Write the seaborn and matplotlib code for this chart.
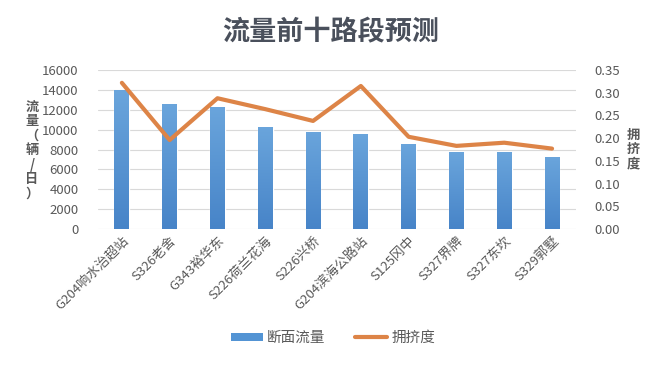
import matplotlib
matplotlib.use("Agg")
import matplotlib.pyplot as plt
import seaborn as sns
import pandas as pd
import numpy as np
from matplotlib.patches import Patch
from matplotlib.lines import Line2D
from matplotlib.colors import LinearSegmentedColormap

categories = ["G204响水治超站", "S326老舍", "G343裕华东", "S226荷兰花海", "S226兴桥",
              "G204滨海公路站", "S125冈中", "S327界牌", "S327东坎", "S329郭墅"]
flow = [14000, 12600, 12300, 10300, 9800, 9600, 8600, 7700, 7700, 7200]
congestion = [0.322, 0.196, 0.288, 0.264, 0.238, 0.315, 0.203, 0.183, 0.190, 0.177]
left_ticks = [0, 2000, 4000, 6000, 8000, 10000, 12000, 14000, 16000]
right_ticks = [0.00, 0.05, 0.10, 0.15, 0.20, 0.25, 0.30, 0.35]

sns.set_theme(style="white")
plt.rcParams['font.family'] = ['Noto Sans CJK SC', 'DejaVu Sans']

df = pd.DataFrame({"路段": categories, "断面流量": flow, "拥挤度": congestion})

fig = plt.figure(figsize=(6.62, 3.79), dpi=100)
ax = fig.add_axes([0.148, 0.396, 0.722, 0.419])

tick_color = "#595959"
bar_color = "#5394D4"
line_color = "#DD8447"

sns.barplot(data=df, x="路段", y="断面流量", color=bar_color, width=0.31,
            saturation=1, ax=ax, zorder=2)
ax.set_ylim(0, 16000)
ax.set_xlim(-0.5, len(categories) - 0.5)

# vertical gradient fill on each bar (style only)
cmap = LinearSegmentedColormap.from_list("g", ["#4784C8", "#6AA5DC"])
grad = np.linspace(0, 1, 256).reshape(-1, 1)
for p in list(ax.patches):
    x0, y0 = p.get_x(), p.get_y()
    w, h = p.get_width(), p.get_height()
    im = ax.imshow(grad, cmap=cmap, aspect='auto', origin='lower',
                   extent=(x0, x0 + w, y0, y0 + h), zorder=2.1)
    im.set_clip_path(p)
ax.set_xlim(-0.5, len(categories) - 0.5)
ax.set_ylim(0, 16000)

ax.set_yticks(left_ticks)
ax.set_yticklabels([str(t) for t in left_ticks])
ax.grid(axis='y', color="#D9D9D9", linewidth=0.8, zorder=0)
ax.set_axisbelow(True)
for s in ax.spines.values():
    s.set_visible(False)
ax.set_xlabel("")
ax.set_ylabel("")
ax.tick_params(axis='y', length=0, pad=14, labelsize=9.5, labelcolor=tick_color)
ax.tick_params(axis='x', length=0, pad=4, labelsize=9.5, labelcolor=tick_color)
plt.setp(ax.get_xticklabels(), rotation=45, ha='right', rotation_mode='anchor')

ax2 = ax.twinx()
sns.lineplot(x=list(range(len(categories))), y=congestion, ax=ax2, color=line_color,
             linewidth=3, sort=False)
ax2.set_ylim(0, 0.35)
ax2.set_yticks(right_ticks)
ax2.set_yticklabels([f"{t:.2f}" for t in right_ticks])
for s in ax2.spines.values():
    s.set_visible(False)
ax2.tick_params(axis='y', length=0, pad=13, labelsize=9.5, labelcolor=tick_color)
ax2.set_ylabel("")
ax2.grid(False)

fig.text(331 / 662, 1 - 32 / 379, "流量前十路段预测", ha='center', va='center', fontsize=19.5,
         fontweight='bold', color="#4A505C")

fig.text(32 / 662, 1 - 150 / 379, "\n".join("流量（辆/日）"), ha='center', va='center',
         fontsize=9.5, fontweight='bold', color=tick_color, linespacing=1.05)
fig.text(633 / 662, 1 - 149 / 379, "\n".join("拥挤度"), ha='center', va='center',
         fontsize=9.5, fontweight='bold', color=tick_color, linespacing=1.0)

handles = [Patch(facecolor=bar_color, edgecolor='none'),
           Line2D([0], [0], color=line_color, linewidth=3)]
fig.legend(handles, ["断面流量", "拥挤度"], loc='center', bbox_to_anchor=(0.503, 1 - 338 / 379),
           ncol=2, frameon=False, fontsize=10.5, labelcolor=tick_color,
           handlelength=2.2, handleheight=0.5, columnspacing=2.0, handletextpad=0.3)

fig.savefig("out.png", dpi=100, facecolor="white")
